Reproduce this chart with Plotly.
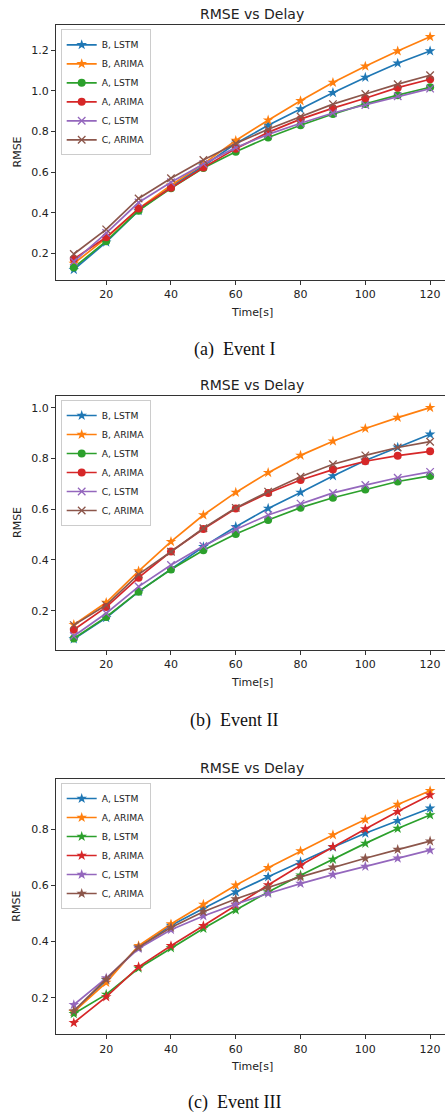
import plotly.graph_objects as go

# ---------------- data ----------------
time_s = [10, 20, 30, 40, 50, 60, 70, 80, 90, 100, 110, 120]

# Event I
ev1_b_lstm = [0.12, 0.255, 0.41, 0.53, 0.63, 0.74, 0.83, 0.91, 0.99, 1.065, 1.135, 1.195]
ev1_b_arima = [0.15, 0.275, 0.42, 0.535, 0.64, 0.755, 0.855, 0.95, 1.04, 1.12, 1.195, 1.265]
ev1_a_lstm = [0.13, 0.26, 0.41, 0.52, 0.62, 0.70, 0.77, 0.83, 0.885, 0.935, 0.978, 1.017]
ev1_a_arima = [0.172, 0.279, 0.42, 0.523, 0.622, 0.715, 0.795, 0.86, 0.914, 0.963, 1.015, 1.056]
ev1_c_lstm = [0.16, 0.30, 0.45, 0.55, 0.64, 0.72, 0.785, 0.84, 0.89, 0.93, 0.973, 1.01]
ev1_c_arima = [0.197, 0.318, 0.47, 0.569, 0.659, 0.74, 0.81, 0.873, 0.934, 0.984, 1.032, 1.076]

# Event II
ev2_b_lstm = [0.088, 0.172, 0.275, 0.365, 0.452, 0.531, 0.603, 0.666, 0.731, 0.792, 0.844, 0.895]
ev2_b_arima = [0.145, 0.232, 0.356, 0.472, 0.577, 0.666, 0.744, 0.812, 0.868, 0.918, 0.961, 1.0]
ev2_a_lstm = [0.09, 0.175, 0.275, 0.362, 0.438, 0.502, 0.557, 0.606, 0.645, 0.678, 0.709, 0.731]
ev2_a_arima = [0.125, 0.214, 0.33, 0.433, 0.522, 0.603, 0.664, 0.715, 0.756, 0.789, 0.811, 0.828]
ev2_c_lstm = [0.10, 0.19, 0.295, 0.38, 0.455, 0.52, 0.577, 0.622, 0.664, 0.695, 0.724, 0.747]
ev2_c_arima = [0.143, 0.222, 0.343, 0.432, 0.525, 0.605, 0.669, 0.728, 0.777, 0.812, 0.843, 0.866]

# Event III
ev3_a_lstm = [0.15, 0.263, 0.38, 0.457, 0.517, 0.576, 0.63, 0.683, 0.735, 0.785, 0.83, 0.874]
ev3_a_arima = [0.15, 0.254, 0.385, 0.462, 0.532, 0.6, 0.662, 0.722, 0.779, 0.834, 0.887, 0.936]
ev3_b_lstm = [0.143, 0.212, 0.305, 0.377, 0.446, 0.512, 0.576, 0.636, 0.692, 0.749, 0.802, 0.85]
ev3_b_arima = [0.111, 0.203, 0.31, 0.385, 0.456, 0.53, 0.601, 0.671, 0.737, 0.80, 0.862, 0.921]
ev3_c_lstm = [0.175, 0.27, 0.375, 0.442, 0.491, 0.533, 0.571, 0.606, 0.638, 0.667, 0.696, 0.725]
ev3_c_arima = [0.153, 0.265, 0.38, 0.45, 0.506, 0.551, 0.592, 0.63, 0.664, 0.696, 0.727, 0.757]

series_labels_1 = ["B, LSTM", "B, ARIMA", "A, LSTM", "A, ARIMA", "C, LSTM", "C, ARIMA"]
series_labels_3 = ["A, LSTM", "A, ARIMA", "B, LSTM", "B, ARIMA", "C, LSTM", "C, ARIMA"]
captions = ["(a)\u2002Event I", "(b)\u2002Event II", "(c)\u2002Event III"]
y_ticks = [[0.2, 0.4, 0.6, 0.8, 1.0, 1.2], [0.2, 0.4, 0.6, 0.8, 1.0], [0.2, 0.4, 0.6, 0.8]]
x_ticks = [20, 40, 60, 80, 100, 120]

# ---------------- style ----------------
W, H = 445, 1113
colors = ["#1f77b4", "#ff7f0e", "#2ca02c", "#d62728", "#9467bd", "#8c564b"]
TXT = "#222222"
SANS = "DejaVu Sans"
SERIF = "Liberation Serif"

def py(px):
    return 1 - px / H

# panel pixel geometry: (top, bottom) of axes box
panels = [(25, 280), (396, 650), (779, 1034.3)]
y_ranges = [[0.069, 1.323], [0.045, 1.046], [0.070, 0.978]]
x_range = [4.5, 124.6]
x_dom = [56 / W, 1.0]

title_y = [14, 385, 768]
xlabel_y = [312, 682, 1066]
caption_y = [350, 720, 1102]
legend_top = [29.3, 400, 783]

data_sets = [
    [ev1_b_lstm, ev1_b_arima, ev1_a_lstm, ev1_a_arima, ev1_c_lstm, ev1_c_arima],
    [ev2_b_lstm, ev2_b_arima, ev2_a_lstm, ev2_a_arima, ev2_c_lstm, ev2_c_arima],
    [ev3_a_lstm, ev3_a_arima, ev3_b_lstm, ev3_b_arima, ev3_c_lstm, ev3_c_arima],
]
labels_sets = [series_labels_1, series_labels_1, series_labels_3]
symbols_12 = ["star", "star", "circle", "circle", "x-thin", "x-thin"]
symbols_3 = ["star"] * 6
symbol_sets = [symbols_12, symbols_12, symbols_3]

fig = go.Figure()
annotations = []
for p in range(3):
    xa = "x" if p == 0 else f"x{p+1}"
    ya = "y" if p == 0 else f"y{p+1}"
    lg = "legend" if p == 0 else f"legend{p+1}"
    for i in range(6):
        sym = symbol_sets[p][i]
        if sym == "x-thin":
            marker = dict(symbol=sym, size=7.5, color=colors[i],
                          line=dict(color=colors[i], width=1.3))
        elif sym == "circle":
            marker = dict(symbol=sym, size=8, color=colors[i])
        else:
            marker = dict(symbol=sym, size=8, color=colors[i])
        fig.add_trace(go.Scatter(
            x=time_s, y=data_sets[p][i], mode="lines+markers",
            name=labels_sets[p][i], xaxis=xa, yaxis=ya, legend=lg,
            line=dict(color=colors[i], width=1.7), marker=marker,
        ))
    top, bot = panels[p]
    axis_common = dict(showgrid=False, zeroline=False, showline=True,
                       linecolor="#333333", linewidth=1, ticks="outside",
                       ticklen=4, tickwidth=1, tickcolor="#333333",
                       tickfont=dict(family=SANS, size=11, color=TXT))
    fig.layout[f"xaxis{'' if p == 0 else p+1}"] = dict(
        domain=x_dom, range=x_range, tickvals=x_ticks, anchor=ya,
        mirror=True, **axis_common)
    fig.layout[f"yaxis{'' if p == 0 else p+1}"] = dict(
        domain=[py(bot), py(top)], range=y_ranges[p], tickvals=y_ticks[p],
        tickformat=".1f", anchor=xa, mirror=False, **axis_common)
    fig.layout[lg] = dict(
        x=60.7 / W, y=py(legend_top[p]), xanchor="left", yanchor="top",
        bgcolor="rgba(255,255,255,0.8)", bordercolor="#cccccc", borderwidth=1,
        font=dict(family=SANS, size=9.2, color=TXT), tracegroupgap=0,
        itemwidth=30,
    )
    cx = (56 + 448) / 2 / W
    annotations.append(dict(text="RMSE vs Delay", x=cx, y=py(title_y[p]),
                            xref="paper", yref="paper", showarrow=False,
                            xanchor="center", yanchor="middle",
                            font=dict(family=SANS, size=14, color=TXT)))
    annotations.append(dict(text="Time[s]", x=cx, y=py(xlabel_y[p]),
                            xref="paper", yref="paper", showarrow=False,
                            xanchor="center", yanchor="middle",
                            font=dict(family=SANS, size=11, color=TXT)))
    annotations.append(dict(text="RMSE", x=17 / W, y=py((top + bot) / 2),
                            xref="paper", yref="paper", showarrow=False,
                            textangle=-90, xanchor="center", yanchor="middle",
                            font=dict(family=SANS, size=11, color=TXT)))
    annotations.append(dict(text=captions[p], x=234 / W, y=py(caption_y[p]),
                            xref="paper", yref="paper", showarrow=False,
                            xanchor="center", yanchor="middle",
                            font=dict(family=SERIF, size=18, color="#111111")))

fig.update_layout(
    width=W, height=H, margin=dict(l=0, r=0, t=0, b=0),
    paper_bgcolor="white", plot_bgcolor="white",
    annotations=annotations, showlegend=True,
)
fig.write_html(
    "out.html",
    config={"displayModeBar": False},
    post_script="document.body.style.margin='0';document.body.style.overflow='hidden';",
)
